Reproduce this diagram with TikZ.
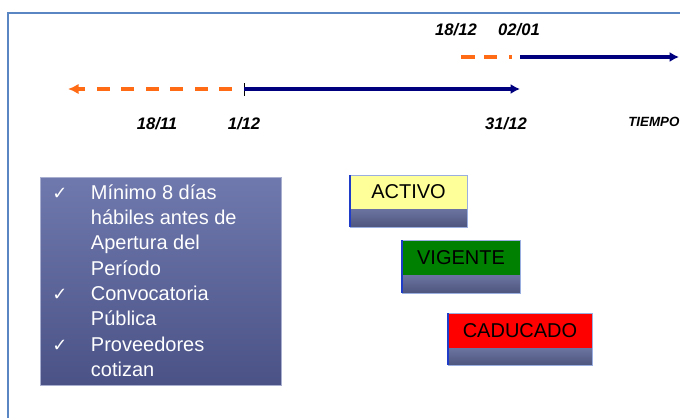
\documentclass[tikz,border=0pt]{standalone}
\usepackage{fontspec}
\setmainfont{Liberation Sans}
\newfontfamily\checkfont{DejaVu Sans}
\usetikzlibrary{arrows.meta}
\definecolor{marco}{HTML}{5A87C3}
\definecolor{naranja}{HTML}{FF6A14}
\definecolor{marino}{HTML}{00007F}
\definecolor{listaarriba}{HTML}{7079AD}
\definecolor{listaabajo}{HTML}{4A5286}
\definecolor{amarillo}{HTML}{FFFF99}
\definecolor{verde}{HTML}{008000}
\definecolor{rojo}{HTML}{FF0000}
\definecolor{tiraarriba}{HTML}{6B74A0}
\definecolor{tiraabajo}{HTML}{4E567E}
\definecolor{bordeestado}{HTML}{9AAEE0}
\definecolor{ladoestado}{HTML}{1E3CC8}
\newcommand{\chk}{\makebox[29pt][l]{\checkfont\fontsize{13.5}{15}\selectfont ✓}}
\newcommand{\nochk}{\hspace*{29pt}}
\begin{document}
\begin{tikzpicture}[x=0.75pt, y=-0.75pt,
	fecha/.style={font=\fontsize{12.5}{15}\selectfont\bfseries\itshape},
	linea/.style={line width=2.3pt, marino, -{Latex[length=7pt,width=7.5pt]}},
	tramo/.style={line width=2.6pt, naranja},
	estado/.style={inner sep=0pt, font=\fontsize{15}{18}\selectfont},
	lista/.style={inner sep=0pt, align=left, text=white, font=\fontsize{15}{19}\selectfont}]
	\useasboundingbox (0,0) rectangle (680,418);
	\draw[marco, line width=1pt] (8,418) -- (8,13) -- (680,13);
	% lineas de tiempo
	\coordinate (atras) at (68,89);
	\coordinate (atrasini) at (232,89);
	\coordinate (ini) at (244,89);
	\coordinate (fin) at (520,89);
	\coordinate (sigini) at (461,57);
	\coordinate (sigfin) at (512,57);
	\coordinate (sig) at (520,57);
	\coordinate (sigtope) at (679,57);
	\draw[tramo, dash pattern=on 9.75pt off 8.6pt, -{Latex[length=8pt,width=8pt]}] (atrasini) -- (atras);
	\draw[thin] ([yshift=4.5pt]ini) -- ([yshift=-5pt]ini);
	\draw[linea] (ini) -- (fin);
	\draw[tramo, dash pattern=on 10.5pt off 6.75pt on 9.75pt off 9pt on 2.25pt off 20pt] (sigini) -- (sigfin);
	\draw[linea] (sig) -- (sigtope);
	\node[fecha] (f1812) at (456,30) {18/12};
	\node[fecha] (f0201) at (519,30) {02/01};
	\node[fecha] (f1811) at (157,124) {18/11};
	\node[fecha] (f0112) at (244,124) {1/12};
	\node[fecha] (f3112) at (506,124) {31/12};
	\node[fecha, font=\fontsize{10}{12}\selectfont\bfseries\itshape, anchor=west, inner sep=0pt] (tiempo) at (628,122) {TIEMPO};
	% requisitos
	\shade[top color=listaarriba, bottom color=listaabajo] (40,177) rectangle (281,385);
	\draw[listaarriba!60!white, line width=0.6pt] (40,177) rectangle (281,385);
	\node[lista, anchor=north west] (requisitos) at (52,184) {\chk Mínimo 8 días\\
		\nochk hábiles antes de\\
		\nochk Apertura del\\
		\nochk Período\\
		\chk Convocatoria\\
		\nochk Pública\\
		\chk Proveedores\\
		\nochk cotizan};
	% estados
	\fill[amarillo] (350,175) rectangle (467,209);
	\shade[top color=tiraarriba, bottom color=tiraabajo] (350,209) rectangle (467,227);
	\draw[bordeestado, line width=0.6pt] (350,175) rectangle (467,227);
	\draw[ladoestado, line width=0.8pt] (350,175) -- (350,227);
	\node[estado] (activo) at (408.5,192) {ACTIVO};
	\fill[verde] (402,240) rectangle (520,275);
	\shade[top color=tiraarriba, bottom color=tiraabajo] (402,275) rectangle (520,293);
	\draw[bordeestado, line width=0.6pt] (402,240) rectangle (520,293);
	\draw[ladoestado, line width=0.8pt] (402,240) -- (402,293);
	\node[estado] (vigente) at (461,258) {VIGENTE};
	\fill[rojo] (448,313) rectangle (592,348);
	\shade[top color=tiraarriba, bottom color=tiraabajo] (448,348) rectangle (592,365);
	\draw[bordeestado, line width=0.6pt] (448,313) rectangle (592,365);
	\draw[ladoestado, line width=0.8pt] (448,313) -- (448,365);
	\node[estado] (caducado) at (520,331) {CADUCADO};
\end{tikzpicture}
\end{document}
